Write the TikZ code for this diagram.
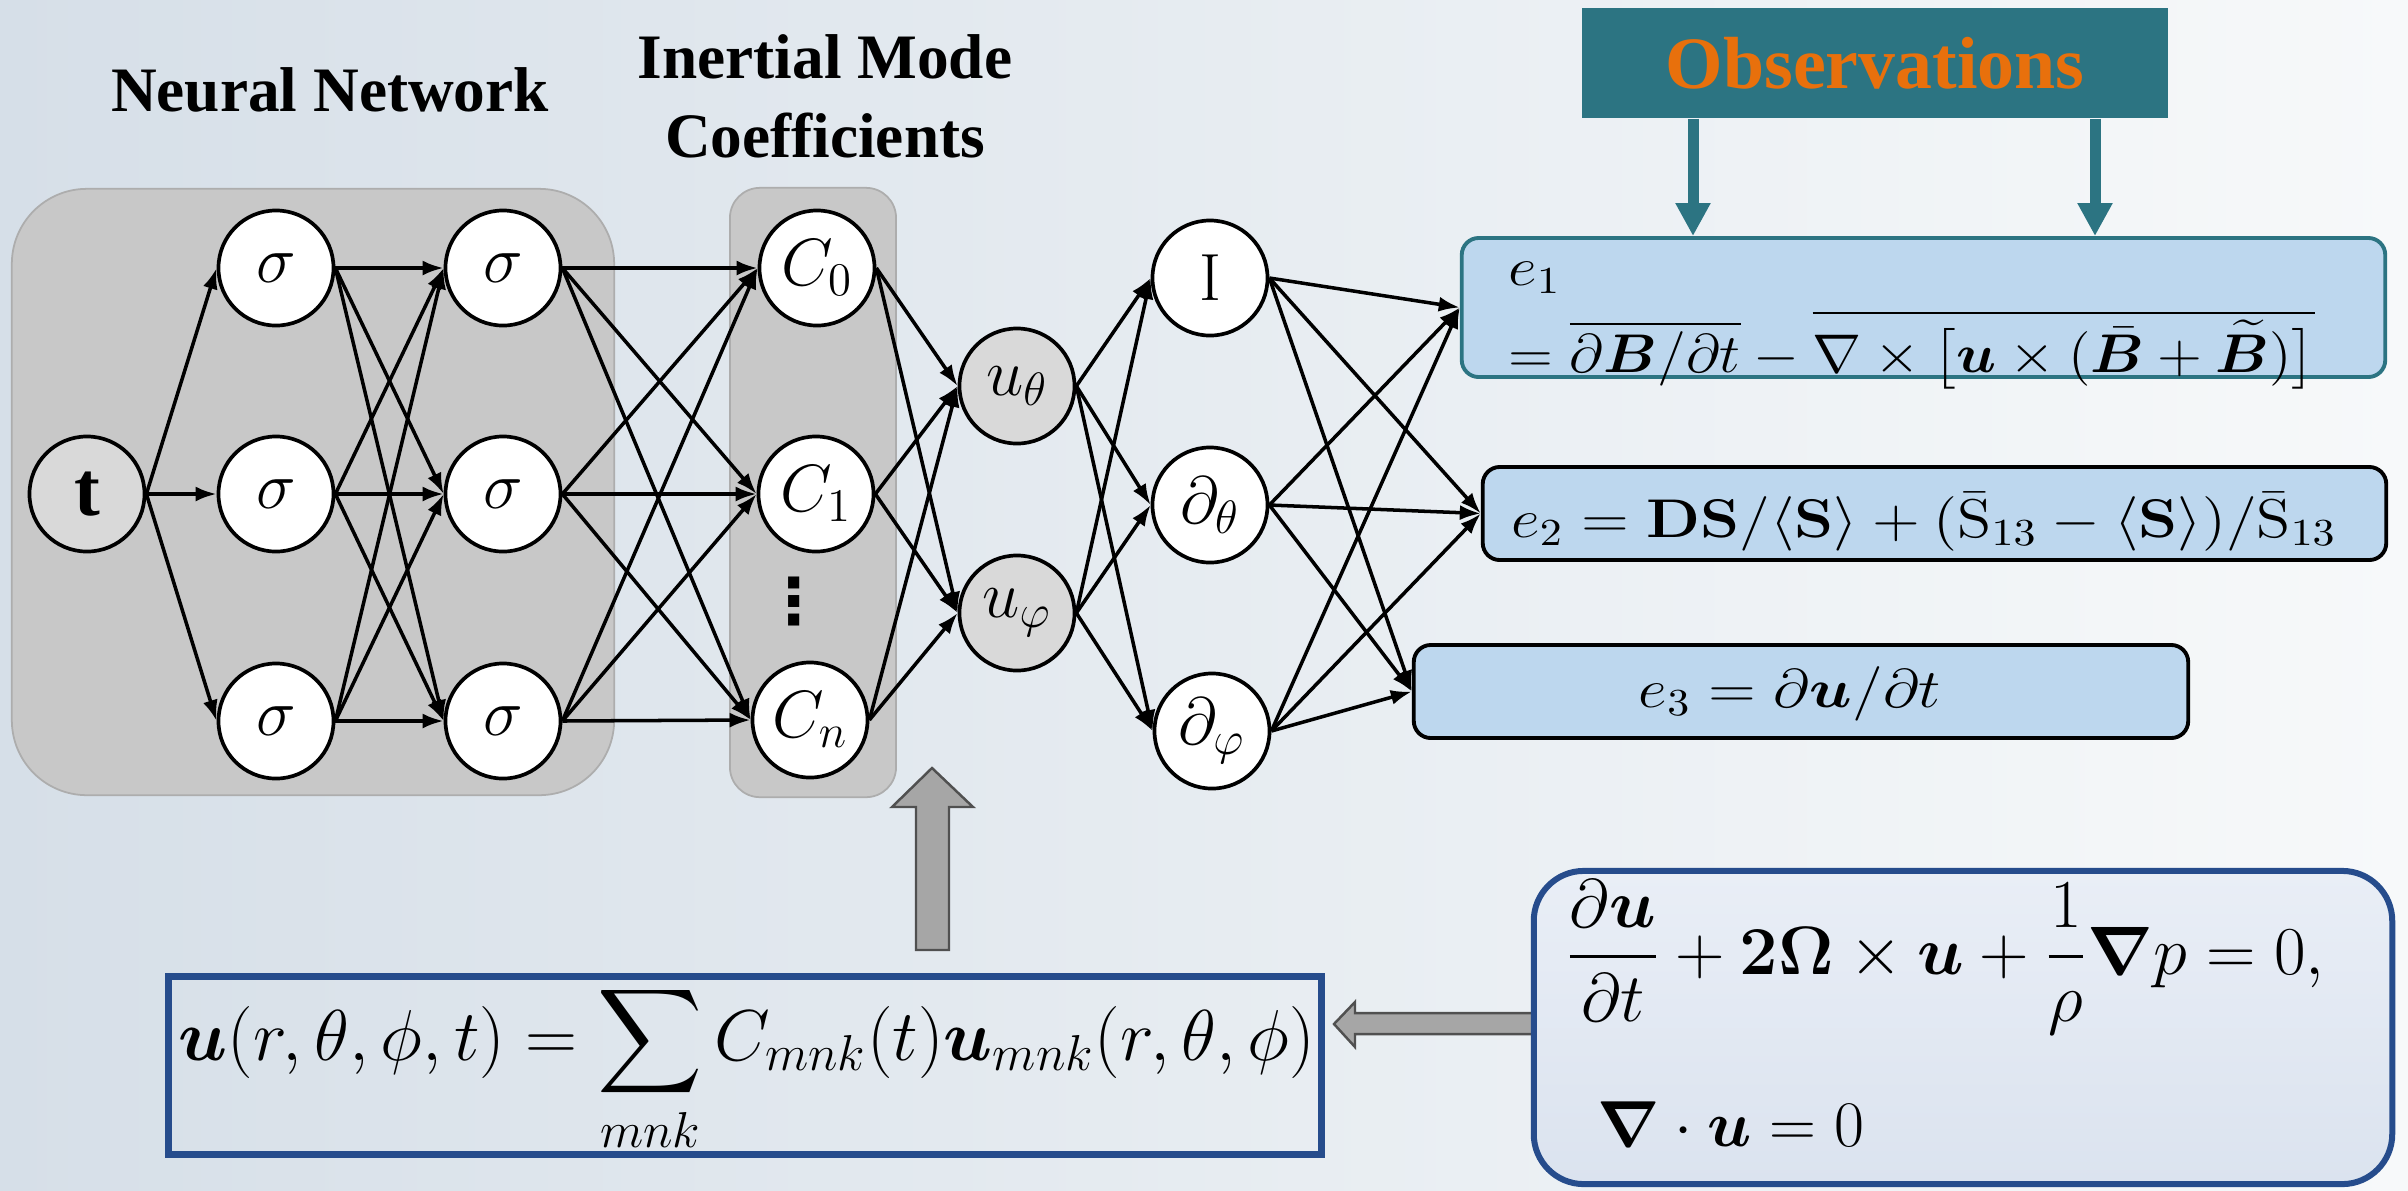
\documentclass[tikz,border=0pt]{standalone}
\usepackage{fix-cm}
\usepackage{amsmath}
\usepackage{bm}
\usepackage{graphicx}
\usepackage[no-math]{fontspec}
\setmainfont{Liberation Serif}
\newfontfamily\glyphfont{DejaVu Sans}
\usetikzlibrary{arrows.meta}

\definecolor{bgleft}{HTML}{D6DFE8}
\definecolor{bgright}{HTML}{F7F9FA}
\definecolor{panel}{HTML}{C8C8C8}
\definecolor{panelrim}{HTML}{ADADAD}
\definecolor{innode}{HTML}{D9D9D9}
\definecolor{obsteal}{HTML}{2C7482}
\definecolor{obsorange}{HTML}{E8700C}
\definecolor{eblue}{HTML}{BDD7EE}
\definecolor{navy}{HTML}{264C8C}
\definecolor{nstop}{HTML}{E9EEF6}
\definecolor{nsbot}{HTML}{DBE3EF}
\definecolor{arrowfill}{HTML}{A6A6A6}
\definecolor{arrowrim}{HTML}{505050}

\newcommand\nodefont{\fontsize{19}{22}\selectfont}
\newcommand\titlefont{\fontsize{18}{22.5}\selectfont\bfseries}
\newcommand\eqsize{\fontsize{15.5}{18}\selectfont}
\newcommand\widened[1]{\scalebox{1.15}[1]{#1}}

\tikzset{
  neuron/.style={circle, draw=black, line width=1.05pt, fill=white,
    minimum size=1.15cm, inner sep=0pt, font=\nodefont},
  inneuron/.style={neuron, fill=innode},
  link/.style={line width=1pt, -{Latex[length=0.21cm,width=0.15cm]}},
  panelbox/.style={draw=panelrim, line width=0.5pt, fill=panel},
  ebox/.style={rounded corners=0.17cm, fill=eblue, draw=black, line width=1.1pt, inner sep=0pt},
  obsarrow/.style={draw=obsteal, line width=0.11cm,
    -{Triangle[length=0.33cm,width=0.33cm]}},
  blockarrow/.style={fill=arrowfill, draw=arrowrim, line width=0.7pt, line join=miter},
  title/.style={font=\titlefont, align=center, inner sep=0pt},
  eqtext/.style={font=\eqsize, inner sep=0pt}
}

\begin{document}
\begin{tikzpicture}[x=0.01cm, y=-0.01cm]
  % page and background
  \useasboundingbox (0,0) rectangle (2408,1190);
  \shade[left color=bgleft, right color=bgright] (0,0) rectangle (2408,1190);

  % titles
  \node[title] (nntitle) at (330,90) {Neural Network};
  \node[title] (imtitle) at (825,96) {Inertial Mode\\Coefficients};

  % grey panels behind the network and the coefficients
  \node[panelbox, rounded corners=0.75cm, minimum width=6.02cm, minimum height=6.06cm] (nnpanel) at (313,492) {};
  \node[panelbox, rounded corners=0.3cm, minimum width=1.66cm, minimum height=6.09cm] (cpanel) at (813,492.5) {};

  % network nodes
  \node[inneuron, font=\fontsize{22}{24}\selectfont] (t) at (87,494) {\textbf{t}};
  \node[neuron] (a1) at (276,268) {$\sigma$};
  \node[neuron] (a2) at (276,494) {$\sigma$};
  \node[neuron] (a3) at (276,721) {$\sigma$};
  \node[neuron] (b1) at (503,268) {$\sigma$};
  \node[neuron] (b2) at (503,494) {$\sigma$};
  \node[neuron] (b3) at (503,721) {$\sigma$};
  \node[neuron] (c0) at (817,268) {$C_0$};
  \node[neuron] (c1) at (816,494) {$C_1$};
  \node[neuron] (cn) at (810,720) {$C_n$};
  \node[inner sep=0pt, font=\glyphfont\bfseries\fontsize{18}{20}\selectfont] (cdots) at (794,601) {⋮};
  \node[inneuron] (ut) at (1017,386) {$u_\theta$};
  \node[inneuron] (up) at (1017,613) {$u_\varphi$};
  \node[neuron] (id) at (1210,278) {$\mathrm{I}$};
  \node[neuron] (dt) at (1210,505) {$\partial_\theta$};
  \node[neuron] (dp) at (1212,731) {$\partial_\varphi$};

  % residual boxes
  \node[ebox, draw=obsteal, minimum width=9.23cm, minimum height=1.39cm] (e1) at (1923.5,307.5) {};
  \node[ebox, minimum width=9.03cm, minimum height=0.93cm] (e2) at (1934.5,513.5) {};
  \node[ebox, minimum width=7.74cm, minimum height=0.93cm] (e3) at (1801,691.5) {};

  \node[eqtext, anchor=base west] (e1a) at (1508,285) {\widened{$e_1$}};
  \node[eqtext, anchor=base west] (e1b) at (1508,372)
    {\scalebox{1.08}[1]{$= \overline{\partial \bm{B}/\partial t} - \overline{\nabla\times\bigl[\bm{u}\times(\bar{\bm{B}}+\widetilde{\bm{B}})\bigr]}$}};
  \node[eqtext, anchor=base] (e2t) at (1924,537)
    {\widened{$e_2 = \mathbf{DS}/\langle\mathbf{S}\rangle + (\bar{\mathrm{S}}_{13} - \langle\mathbf{S}\rangle)/\bar{\mathrm{S}}_{13}$}};
  \node[eqtext, anchor=base] (e3t) at (1790,707)
    {\widened{$e_3 = \partial\bm{u}/\partial t$}};

  % observations
  \node[fill=obsteal, minimum width=5.86cm, minimum height=1.10cm, inner sep=0pt,
    text=obsorange, font=\fontsize{21}{24}\selectfont\bfseries] (obs) at (1875,63) {Observations};
  \coordinate (oa) at (1693,0);
  \coordinate (ob) at (2095,0);
  \draw[obsarrow] (obs.south -| oa) -- (e1.north -| oa);
  \draw[obsarrow] (obs.south -| ob) -- (e1.north -| ob);

  % connections
  \foreach \s in {a1,a2,a3} \draw[link] (t.east) -- (\s.west);
  \foreach \s in {a1,a2,a3} \foreach \d in {b1,b2,b3} \draw[link] (\s.east) -- (\d.west);
  \foreach \s in {b1,b2,b3} \foreach \d in {c0,c1,cn} \draw[link] (\s.east) -- (\d.west);
  \foreach \s in {c0,c1,cn} \foreach \d in {ut,up} \draw[link] (\s.east) -- (\d.west);
  \foreach \s in {ut,up} \foreach \d in {id,dt,dp} \draw[link] (\s.east) -- (\d.west);
  \foreach \s in {id,dt,dp} \foreach \d in {e1,e2,e3} \draw[link] (\s.east) -- (\d.west);

  % mode expansion
  \node[draw=navy, line width=0.07cm, minimum width=11.53cm, minimum height=1.78cm, inner sep=0pt] (sumbox) at (745,1065.5) {};
  \node[inner sep=0pt, anchor=base, font=\fontsize{20.5}{24}\selectfont] (sumeq) at (747,1060)
    {$\displaystyle \bm{u}(r,\theta,\phi,t)=\sum_{mnk}C_{mnk}(t)\bm{u}_{mnk}(r,\theta,\phi)$};

  % block arrows
  \draw[blockarrow] (916,950) -- (916,807) -- (892,807) -- (932,768) -- (973,807) -- (949,807) -- (949,950) -- cycle;
  \draw[blockarrow] (1540,1013) -- (1355,1013) -- (1355,1002) -- (1334,1024) -- (1355,1047) -- (1355,1034) -- (1540,1034) -- cycle;

  % governing equations
  \node[draw=navy, line width=0.06cm, rounded corners=0.5cm, top color=nstop, bottom color=nsbot,
    minimum width=8.58cm, minimum height=3.13cm, inner sep=0pt] (nsbox) at (1963,1027.5) {};
  \node[inner sep=0pt, anchor=base west, font=\fontsize{19.5}{22}\selectfont] (nsa) at (1565,974)
    {$\displaystyle \frac{\partial\bm{u}}{\partial t}+\mathbf{2\Omega}\times\bm{u}+\frac{1}{\rho}\bm{\nabla} p=0,$};
  \node[inner sep=0pt, anchor=base west, font=\fontsize{18.5}{22}\selectfont] (nsb) at (1597,1146)
    {$\bm{\nabla}\cdot\bm{u}=0$};
\end{tikzpicture}
\end{document}
